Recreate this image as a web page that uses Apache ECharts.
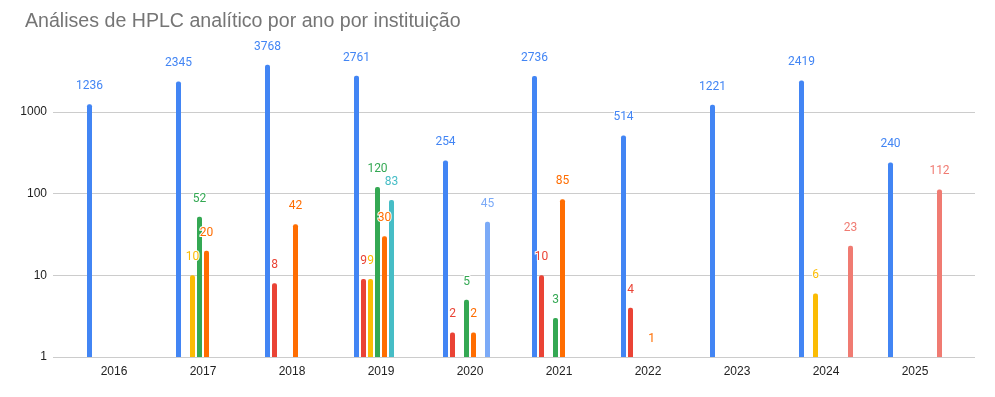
<!DOCTYPE html>
<html>
<head>
<meta charset="utf-8">
<script src="https://cdn.jsdelivr.net/npm/echarts@6/dist/echarts.min.js"></script>
<style>
html,body{margin:0;padding:0;background:#fff;}
#chart{width:995px;height:397px;}
</style>
</head>
<body>
<div id="chart"></div>
<script>
const titleText = 'Análises de HPLC analítico por ano por instituição';
const categories = ['2016','2017','2018','2019','2020','2021','2022','2023','2024','2025'];
const yTicks = [1, 10, 100, 1000];
const seriesBlue     = [1236, 2345, 3768, 2761, 254, 2736, 514, 1221, 2419, 240];
const seriesRed      = ['-', '-', 8, 9, 2, 10, 4, '-', '-', '-'];
const seriesYellow   = ['-', 10, '-', 9, '-', '-', '-', '-', 6, '-'];
const seriesGreen    = ['-', 52, '-', 120, 5, 3, '-', '-', '-', '-'];
const seriesOrange   = ['-', 20, 42, 30, 2, 85, 1, '-', '-', '-'];
const seriesTeal     = ['-', '-', '-', 83, '-', '-', '-', '-', '-', '-'];
const seriesLightBlue= ['-', '-', '-', '-', 45, '-', '-', '-', '-', '-'];
const seriesSalmon   = ['-', '-', '-', '-', '-', '-', '-', '-', 23, 112];

const seriesList = [seriesBlue, seriesRed, seriesYellow, seriesGreen, seriesOrange, seriesTeal, seriesLightBlue, seriesSalmon];
const colors = ['#4285F4', '#EA4335', '#FBBC04', '#34A853', '#FF6D01', '#46BDC6', '#7BAAF7', '#F07B72'];

const chart = echarts.init(document.getElementById('chart'), null, {renderer: 'canvas'});
const font = 'Roboto, Arial, sans-serif';
const axisFont = '"Liberation Sans", Arial, sans-serif';

const option = {
  animation: false,
  backgroundColor: '#fff',
  title: {
    text: titleText,
    left: 20, top: 7,
    textStyle: {fontFamily: axisFont, fontSize: 19.6, fontWeight: 'normal', color: '#757575'}
  },
  grid: [
    {left: 53, right: 20, top: 30, bottom: 40},
    {left: 69.5, right: 35.5, top: 30, bottom: 40}
  ],
  xAxis: [
    {gridIndex: 0, type: 'value', show: false, min: 0, max: 1},
    {gridIndex: 1, type: 'category', data: categories,
      axisLine: {show: false}, axisTick: {show: false},
      axisLabel: {fontFamily: axisFont, fontSize: 12, color: '#222', margin: 9}}
  ],
  yAxis: [
    {gridIndex: 0, type: 'log', logBase: 10, min: 1, max: 10000,
      axisLine: {show: false}, axisTick: {show: false},
      axisLabel: {fontFamily: axisFont, fontSize: 12, color: '#222', margin: 6,
        formatter: v => (yTicks.indexOf(v) >= 0 ? String(v) : '')},
      splitLine: {show: true, lineStyle: {color: ['#cccccc','#cccccc','#cccccc','#cccccc','rgba(0,0,0,0)'], width: 1}}
    },
    {gridIndex: 1, type: 'log', logBase: 10, min: 1, max: 10000, show: false, splitLine: {show: false}}
  ],
  series: seriesList.map((d, i) => ({
    type: 'bar',
    xAxisIndex: 1, yAxisIndex: 1,
    data: d,
    barWidth: 5,
    barGap: '40%',
    itemStyle: {color: colors[i], borderRadius: [2, 2, 0, 0]},
    label: {
      show: true, position: 'top', distance: 12,
      fontFamily: font, fontSize: 12, color: colors[i],
      textBorderColor: '#fff', textBorderWidth: 2
    }
  }))
};
chart.setOption(option);
</script>
</body>
</html>
